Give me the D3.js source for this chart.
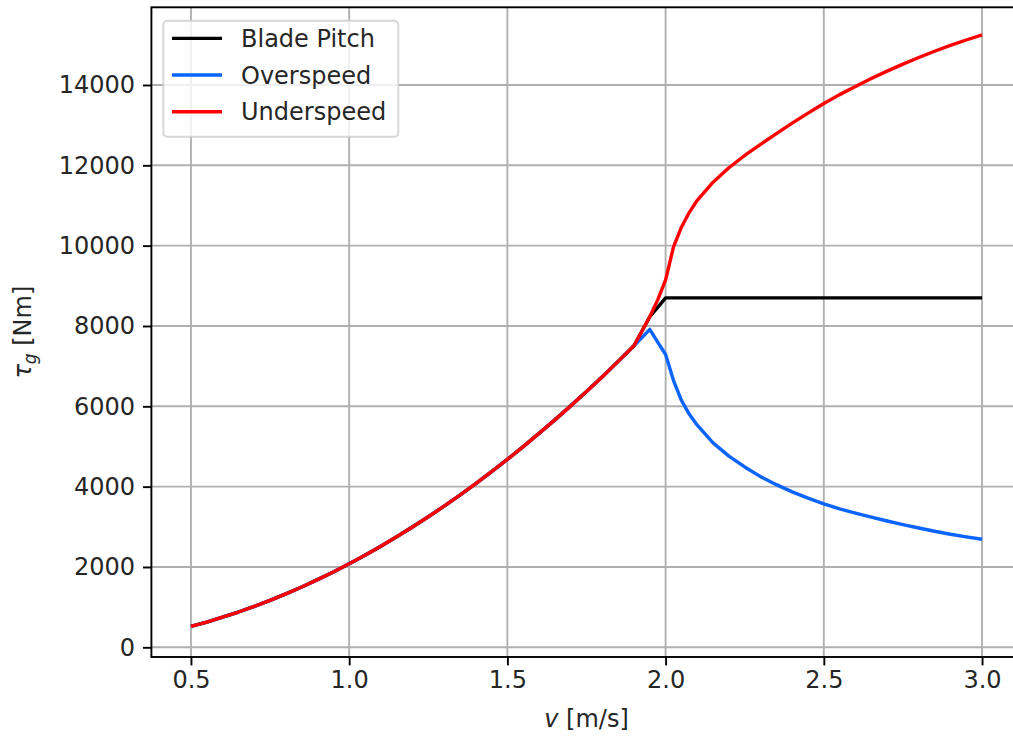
<!DOCTYPE html>
<html>
<head>
<meta charset="utf-8">
<script src="https://cdn.jsdelivr.net/npm/d3@7/dist/d3.min.js"></script>
<style>
  html, body { margin: 0; padding: 0; background: #fff; }
  svg { display: block; font-family: "DejaVu Sans", sans-serif; }
</style>
</head>
<body>
<svg id="chart" width="1013" height="738"></svg>
<script>
// Wind speed samples (m/s)
const speed = [
  0.50, 0.55, 0.60, 0.65, 0.70, 0.75, 0.80, 0.85, 0.90, 0.95,
  1.00, 1.05, 1.10, 1.15, 1.20, 1.25, 1.30, 1.35, 1.40, 1.45,
  1.50, 1.55, 1.60, 1.65, 1.70, 1.75, 1.80, 1.85, 1.90, 1.925,
  1.95, 1.975, 2.00, 2.025, 2.05, 2.075, 2.10, 2.15, 2.20, 2.25,
  2.30, 2.35, 2.40, 2.45, 2.50, 2.55, 2.60, 2.65, 2.70, 2.75,
  2.80, 2.85, 2.90, 2.95, 3.00
];

// Generator torque (Nm) per control strategy
const bladePitch = [
  520, 629, 749, 879, 1019, 1170, 1331, 1503, 1685, 1877,
  2080, 2293, 2517, 2751, 2995, 3250, 3515, 3791, 4077, 4373,
  4680, 4997, 5325, 5663, 6011, 6370, 6739, 7119, 7509, 7870,
  8230, 8465, 8700, 8700, 8700, 8700, 8700, 8700, 8700, 8700,
  8700, 8700, 8700, 8700, 8700, 8700, 8700, 8700, 8700, 8700,
  8700, 8700, 8700, 8700, 8700
];

const overspeed = [
  520, 629, 749, 879, 1019, 1170, 1331, 1503, 1685, 1877,
  2080, 2293, 2517, 2751, 2995, 3250, 3515, 3791, 4077, 4373,
  4680, 4997, 5325, 5663, 6011, 6370, 6739, 7119, 7509, 7710,
  7915, 7600, 7290, 6640, 6150, 5800, 5530, 5090, 4760, 4490,
  4250, 4050, 3870, 3715, 3570, 3445, 3340, 3240, 3145, 3055,
  2970, 2890, 2815, 2750, 2690
];

const underspeed = [
  520, 629, 749, 879, 1019, 1170, 1331, 1503, 1685, 1877,
  2080, 2293, 2517, 2751, 2995, 3250, 3515, 3791, 4077, 4373,
  4680, 4997, 5325, 5663, 6011, 6370, 6739, 7119, 7509, 7870,
  8230, 8650, 9150, 9970, 10460, 10830, 11130, 11580, 11940, 12245,
  12520, 12790, 13050, 13300, 13540, 13760, 13965, 14160, 14345, 14520,
  14685, 14840, 14985, 15120, 15247
];

const seriesNames = ["Blade Pitch", "Overspeed", "Underspeed"];
const seriesColors = ["#000000", "#0a64ff", "#ff0000"];
const xTicks = [0.5, 1.0, 1.5, 2.0, 2.5, 3.0];
const yTicks = [0, 2000, 4000, 6000, 8000, 10000, 12000, 14000];

const series = [bladePitch, overspeed, underspeed].map((vals, i) => ({
  name: seriesNames[i],
  color: seriesColors[i],
  points: speed.map((v, j) => [v, vals[j]])
}));

const svg = d3.select("#chart");
const plot = { left: 151.4, right: 1021.6, top: 7.3, bottom: 657 };
const fontSize = 24;
const textColor = "#262626";

const x = d3.scaleLinear().domain([0.375, 3.125]).range([plot.left, plot.right]);
const y = d3.scaleLinear().domain([-241, 15934]).range([plot.bottom, plot.top]);

// Grid
const grid = svg.append("g");
grid.selectAll("line.gx").data(xTicks).join("line")
  .attr("x1", d => x(d)).attr("x2", d => x(d))
  .attr("y1", plot.top).attr("y2", plot.bottom)
  .attr("stroke", "#b0b0b0").attr("stroke-width", 1.9);
grid.selectAll("line.gy").data(yTicks).join("line")
  .attr("x1", plot.left).attr("x2", plot.right)
  .attr("y1", d => y(d)).attr("y2", d => y(d))
  .attr("stroke", "#b0b0b0").attr("stroke-width", 1.9);

// Curves
const line = d3.line().x(d => x(d[0])).y(d => y(d[1]));
svg.append("g").selectAll("path").data(series).join("path")
  .attr("d", d => line(d.points))
  .attr("fill", "none")
  .attr("stroke", d => d.color)
  .attr("stroke-width", 3.4)
  .attr("stroke-linejoin", "round")
  .attr("stroke-linecap", "butt");

// Axes
const xAxis = d3.axisBottom(x).tickValues(xTicks).tickFormat(d3.format(".1f"))
  .tickSize(8.4).tickPadding(6);
const gx = svg.append("g").attr("transform", `translate(0,${plot.bottom})`).call(xAxis);
const yAxis = d3.axisLeft(y).tickValues(yTicks).tickFormat(d3.format("d"))
  .tickSize(8.4).tickPadding(8);
const gy = svg.append("g").attr("transform", `translate(${plot.left},0)`).call(yAxis);
[gx, gy].forEach(g => {
  g.select(".domain").remove();
  g.selectAll(".tick line").attr("stroke", "#000").attr("stroke-width", 1.9);
  g.selectAll(".tick text")
    .attr("fill", textColor)
    .style("font-size", fontSize + "px")
    .style("font-family", "DejaVu Sans");
});

// Frame
svg.append("rect")
  .attr("x", plot.left).attr("y", plot.top)
  .attr("width", plot.right - plot.left).attr("height", plot.bottom - plot.top)
  .attr("fill", "none").attr("stroke", "#000").attr("stroke-width", 1.9);

// Axis labels
const xl = svg.append("text")
  .attr("x", (plot.left + plot.right) / 2).attr("y", 727)
  .attr("text-anchor", "middle")
  .attr("fill", textColor)
  .style("font-size", fontSize + "px");
xl.append("tspan").style("font-style", "italic").text("v");
xl.append("tspan").text(" [m/s]");

const yl = svg.append("text")
  .attr("transform", `translate(31,${(plot.top + plot.bottom) / 2}) rotate(-90)`)
  .attr("text-anchor", "middle")
  .attr("fill", textColor)
  .style("font-size", fontSize + "px");
yl.append("tspan").style("font-style", "italic").text("τ");
yl.append("tspan").style("font-style", "italic").style("font-size", "17px")
  .attr("dy", 5).text("g");
yl.append("tspan").attr("dy", -5).text(" [Nm]");

// Legend
const legend = svg.append("g");
legend.append("rect")
  .attr("x", 163.3).attr("y", 20.7).attr("width", 235).attr("height", 116)
  .attr("rx", 4).attr("ry", 4)
  .attr("fill", "#fff").attr("fill-opacity", 0.8)
  .attr("stroke", "#cccccc").attr("stroke-opacity", 0.8).attr("stroke-width", 1.9);
const rowY = [38.4, 75, 111.7];
const rows = legend.selectAll("g.row").data(series).join("g")
  .attr("transform", (d, i) => `translate(0,${rowY[i]})`);
rows.append("line")
  .attr("x1", 172).attr("x2", 222).attr("y1", 0).attr("y2", 0)
  .attr("stroke", d => d.color).attr("stroke-width", 3.4);
rows.append("text")
  .attr("x", 241).attr("y", 8.7)
  .attr("fill", textColor)
  .style("font-size", fontSize + "px")
  .text(d => d.name);
</script>
</body>
</html>
